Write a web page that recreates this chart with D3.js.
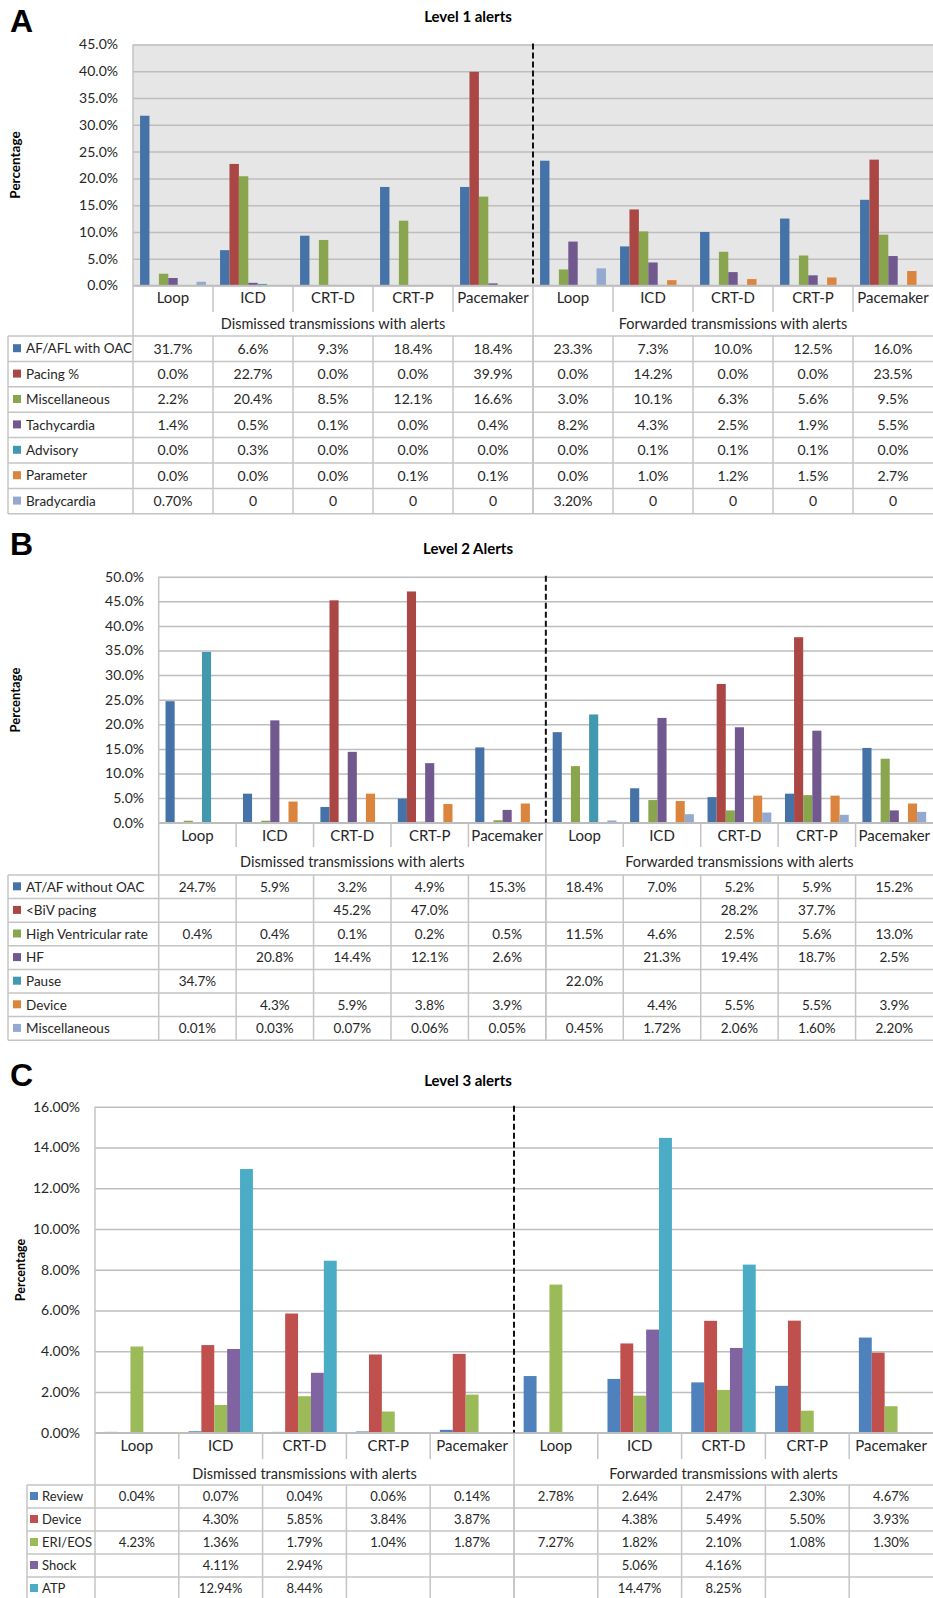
<!DOCTYPE html>
<html>
<head>
<meta charset="utf-8">
<script src="https://cdn.jsdelivr.net/npm/d3@7"></script>
<style>
  body { margin: 0; background: #fff; }
  svg { display: block; font-family: Lato, "Open Sans", sans-serif; }
</style>
</head>
<body>
<script>
// ---- data ----
const devices = ["Loop", "ICD", "CRT-D", "CRT-P", "Pacemaker"];
const groupNames = ["Dismissed transmissions with alerts", "Forwarded transmissions with alerts"];

// level 1
const level1Series = ["AF/AFL with OAC", "Pacing %", "Miscellaneous", "Tachycardia", "Advisory", "Parameter", "Bradycardia"];
const level1Cells = [
    ["31.7%", "6.6%", "9.3%", "18.4%", "18.4%", "23.3%", "7.3%", "10.0%", "12.5%", "16.0%"],
    ["0.0%", "22.7%", "0.0%", "0.0%", "39.9%", "0.0%", "14.2%", "0.0%", "0.0%", "23.5%"],
    ["2.2%", "20.4%", "8.5%", "12.1%", "16.6%", "3.0%", "10.1%", "6.3%", "5.6%", "9.5%"],
    ["1.4%", "0.5%", "0.1%", "0.0%", "0.4%", "8.2%", "4.3%", "2.5%", "1.9%", "5.5%"],
    ["0.0%", "0.3%", "0.0%", "0.0%", "0.0%", "0.0%", "0.1%", "0.1%", "0.1%", "0.0%"],
    ["0.0%", "0.0%", "0.0%", "0.1%", "0.1%", "0.0%", "1.0%", "1.2%", "1.5%", "2.7%"],
    ["0.70%", "0", "0", "0", "0", "3.20%", "0", "0", "0", "0"]
];
const level1Ticks = [0, 5, 10, 15, 20, 25, 30, 35, 40, 45];

// level 2
const level2Series = ["AT/AF without OAC", "<BiV pacing", "High Ventricular rate", "HF", "Pause", "Device", "Miscellaneous"];
const level2Cells = [
    ["24.7%", "5.9%", "3.2%", "4.9%", "15.3%", "18.4%", "7.0%", "5.2%", "5.9%", "15.2%"],
    ["", "", "45.2%", "47.0%", "", "", "", "28.2%", "37.7%", ""],
    ["0.4%", "0.4%", "0.1%", "0.2%", "0.5%", "11.5%", "4.6%", "2.5%", "5.6%", "13.0%"],
    ["", "20.8%", "14.4%", "12.1%", "2.6%", "", "21.3%", "19.4%", "18.7%", "2.5%"],
    ["34.7%", "", "", "", "", "22.0%", "", "", "", ""],
    ["", "4.3%", "5.9%", "3.8%", "3.9%", "", "4.4%", "5.5%", "5.5%", "3.9%"],
    ["0.01%", "0.03%", "0.07%", "0.06%", "0.05%", "0.45%", "1.72%", "2.06%", "1.60%", "2.20%"]
];
const level2Ticks = [0, 5, 10, 15, 20, 25, 30, 35, 40, 45, 50];

// level 3
const level3Series = ["Review", "Device", "ERI/EOS", "Shock", "ATP"];
const level3Cells = [
    ["0.04%", "0.07%", "0.04%", "0.06%", "0.14%", "2.78%", "2.64%", "2.47%", "2.30%", "4.67%"],
    ["", "4.30%", "5.85%", "3.84%", "3.87%", "", "4.38%", "5.49%", "5.50%", "3.93%"],
    ["4.23%", "1.36%", "1.79%", "1.04%", "1.87%", "7.27%", "1.82%", "2.10%", "1.08%", "1.30%"],
    ["", "4.11%", "2.94%", "", "", "", "5.06%", "4.16%", "", ""],
    ["", "12.94%", "8.44%", "", "", "", "14.47%", "8.25%", "", ""]
];
const level3Ticks = [0, 2, 4, 6, 8, 10, 12, 14, 16];

const darkColors = ["#4572a7", "#aa4643", "#89a54e", "#71588f", "#4198af", "#db843d", "#93a9cf"];
const brightColors = ["#4f81bd", "#c0504d", "#9bbb59", "#8064a2", "#4bacc6"];

const width = 933, height = 1598;

const panels = [
    {
        letter: "A", letterY: 32, title: "Level 1 alerts", titleY: 22,
        series: level1Series, cells: level1Cells, ticks: level1Ticks, decimals: 1, colors: darkColors,
        left: 133, right: 933, top: 44.5, bottom: 285.5, tickX: 118, grey: true,
        yLabelX: 15, yLabelY: 165, yLabelSize: 13.5,
        catBottom: 312, catY: 298, groupY: 324,
        tableTop: 336, rowH: 25.4, tableLeft: 8, sqOff: 5, txtOff: 18, labelSize: 13.5, cellSize: 14
    },
    {
        letter: "B", letterY: 555, title: "Level 2 Alerts", titleY: 554,
        series: level2Series, cells: level2Cells, ticks: level2Ticks, decimals: 1, colors: darkColors,
        left: 158.7, right: 933, top: 576.7, bottom: 822.7, tickX: 144, grey: false,
        yLabelX: 15, yLabelY: 700, yLabelSize: 13,
        catBottom: 847, catY: 836, groupY: 862,
        tableTop: 875, rowH: 23.6, tableLeft: 8, sqOff: 5, txtOff: 18, labelSize: 13.5, cellSize: 13.5
    },
    {
        letter: "C", letterY: 1086, title: "Level 3 alerts", titleY: 1086,
        series: level3Series, cells: level3Cells, ticks: level3Ticks, decimals: 2, colors: brightColors,
        left: 95, right: 933, top: 1106.7, bottom: 1432.7, tickX: 80, grey: false,
        yLabelX: 21, yLabelY: 1270, yLabelSize: 12.5,
        catBottom: 1459, catY: 1446, groupY: 1474,
        tableTop: 1485, rowH: 23, tableLeft: 27, sqOff: 3, txtOff: 15, labelSize: 13, cellSize: 13
    }
];

const svg = d3.select("body").append("svg")
    .attr("width", width)
    .attr("height", height);

panels.forEach(p => drawPanel(p));

function drawPanel(p) {
    const g = svg.append("g");
    const cols = d3.range(devices.length * groupNames.length);

    // outer scale: one band per device column, inner scale: one slot per series (gap width 150%)
    const x0 = d3.scaleBand().domain(cols).range([p.left, p.right]);
    const bw = x0.bandwidth();
    const gap = bw * 1.5 / (p.series.length + 1.5);
    const x1 = d3.scaleBand().domain(p.series).range([gap / 2, bw - gap / 2]);
    const y = d3.scaleLinear().domain([0, d3.max(p.ticks)]).range([p.bottom, p.top]);
    const color = d3.scaleOrdinal().domain(p.series).range(p.colors);

    const tableBottom = p.tableTop + p.rowH * p.series.length;
    const lineCol = "#c4c4c4";

    // letter + title
    g.append("text")
        .attr("x", 10).attr("y", p.letterY)
        .attr("font-family", "'Liberation Sans', Arial, sans-serif")
        .attr("font-weight", "bold").attr("font-size", 32)
        .text(p.letter);
    g.append("text")
        .attr("x", 468).attr("y", p.titleY)
        .attr("text-anchor", "middle")
        .attr("font-weight", "bold").attr("font-size", 15)
        .text(p.title);

    // plot background
    if (p.grey) {
        g.append("rect")
            .attr("x", p.left).attr("y", p.top)
            .attr("width", p.right - p.left).attr("height", p.bottom - p.top)
            .attr("fill", "#e6e6e6");
    }

    // y axis with grid lines
    const axis = g.append("g")
        .attr("transform", `translate(${p.left},0)`)
        .call(d3.axisLeft(y)
            .tickValues(p.ticks)
            .tickFormat(d => d.toFixed(p.decimals) + "%")
            .tickSize(-(p.right - p.left))
            .tickPadding(p.left - p.tickX));
    axis.select(".domain").remove();
    axis.selectAll("line").attr("stroke", "#bdbdbd").attr("stroke-width", 1.5);
    axis.selectAll("text")
        .attr("font-family", "Lato, sans-serif")
        .attr("font-size", 14)
        .attr("fill", "#262626");

    // y label
    g.append("text")
        .attr("transform", `translate(${p.yLabelX},${p.yLabelY}) rotate(-90)`)
        .attr("text-anchor", "middle")
        .attr("dy", "0.35em")
        .attr("font-weight", "bold").attr("font-size", p.yLabelSize)
        .text("Percentage");

    // bars
    const barGroups = g.append("g")
        .selectAll("g")
        .data(p.series)
        .join("g")
        .attr("fill", s => color(s));
    barGroups.selectAll("rect")
        .data((s, i) => cols.map(c => ({ s, c, v: parseFloat(p.cells[i][c]) || 0 })))
        .join("rect")
        .attr("x", d => x0(d.c) + x1(d.s))
        .attr("y", d => y(d.v))
        .attr("width", x1.bandwidth())
        .attr("height", d => y(0) - y(d.v));

    // axis frame
    g.append("line")
        .attr("x1", p.left).attr("x2", p.right)
        .attr("y1", p.bottom).attr("y2", p.bottom)
        .attr("stroke", "#bdbdbd").attr("stroke-width", 1.5);
    g.append("line")
        .attr("x1", p.left).attr("x2", p.left)
        .attr("y1", p.top).attr("y2", tableBottom)
        .attr("stroke", lineCol).attr("stroke-width", 1.5);

    // dashed separator between dismissed / forwarded
    const split = x0(devices.length);
    g.append("line")
        .attr("x1", split).attr("x2", split)
        .attr("y1", p.top - 1).attr("y2", p.bottom)
        .attr("stroke", "#111").attr("stroke-width", 2)
        .attr("stroke-dasharray", "6,3");
    g.append("line")
        .attr("x1", split).attr("x2", split)
        .attr("y1", p.bottom).attr("y2", tableBottom)
        .attr("stroke", lineCol).attr("stroke-width", 1.5);

    // category labels
    g.append("g").selectAll("line")
        .data(cols.filter(c => c > 0 && c !== devices.length))
        .join("line")
        .attr("x1", c => x0(c)).attr("x2", c => x0(c))
        .attr("y1", p.bottom).attr("y2", p.catBottom)
        .attr("stroke", lineCol).attr("stroke-width", 1.5);
    g.append("g").selectAll("text")
        .data(cols)
        .join("text")
        .attr("x", c => x0(c) + bw / 2)
        .attr("y", p.catY)
        .attr("dy", "0.35em")
        .attr("text-anchor", "middle")
        .attr("font-size", 15)
        .attr("fill", "#262626")
        .text(c => devices[c % devices.length]);

    // group labels
    g.append("g").selectAll("text")
        .data(groupNames)
        .join("text")
        .attr("x", (d, i) => x0(i * devices.length) + bw * devices.length / 2)
        .attr("y", p.groupY)
        .attr("dy", "0.35em")
        .attr("text-anchor", "middle")
        .attr("font-size", 14.5)
        .attr("fill", "#262626")
        .text(d => d);

    // data table
    const table = g.append("g");
    table.selectAll("line.row")
        .data(d3.range(p.series.length + 1))
        .join("line")
        .attr("class", "row")
        .attr("x1", p.tableLeft).attr("x2", p.right)
        .attr("y1", i => p.tableTop + i * p.rowH).attr("y2", i => p.tableTop + i * p.rowH)
        .attr("stroke", lineCol).attr("stroke-width", 1.5);
    table.selectAll("line.col")
        .data(cols.filter(c => c > 0))
        .join("line")
        .attr("class", "col")
        .attr("x1", c => x0(c)).attr("x2", c => x0(c))
        .attr("y1", p.tableTop).attr("y2", tableBottom)
        .attr("stroke", lineCol).attr("stroke-width", 1.5);
    table.append("line")
        .attr("x1", p.tableLeft).attr("x2", p.tableLeft)
        .attr("y1", p.tableTop).attr("y2", tableBottom)
        .attr("stroke", lineCol).attr("stroke-width", 1.5);

    const rows = table.selectAll("g.tr")
        .data(p.series)
        .join("g")
        .attr("class", "tr")
        .attr("transform", (s, i) => `translate(0,${p.tableTop + (i + 0.5) * p.rowH})`);
    rows.append("rect")
        .attr("x", p.tableLeft + p.sqOff).attr("y", -4.5)
        .attr("width", 8).attr("height", 8)
        .attr("fill", s => color(s));
    rows.append("text")
        .attr("x", p.tableLeft + p.txtOff)
        .attr("dy", "0.35em")
        .attr("font-size", p.labelSize)
        .attr("fill", "#262626")
        .text(s => s);
    rows.selectAll("text.cell")
        .data((s, i) => p.cells[i].map((t, c) => ({ t, c })))
        .join("text")
        .attr("class", "cell")
        .attr("x", d => x0(d.c) + bw / 2)
        .attr("dy", "0.35em")
        .attr("text-anchor", "middle")
        .attr("font-size", p.cellSize)
        .attr("fill", "#262626")
        .text(d => d.t);
}
</script>
</body>
</html>
